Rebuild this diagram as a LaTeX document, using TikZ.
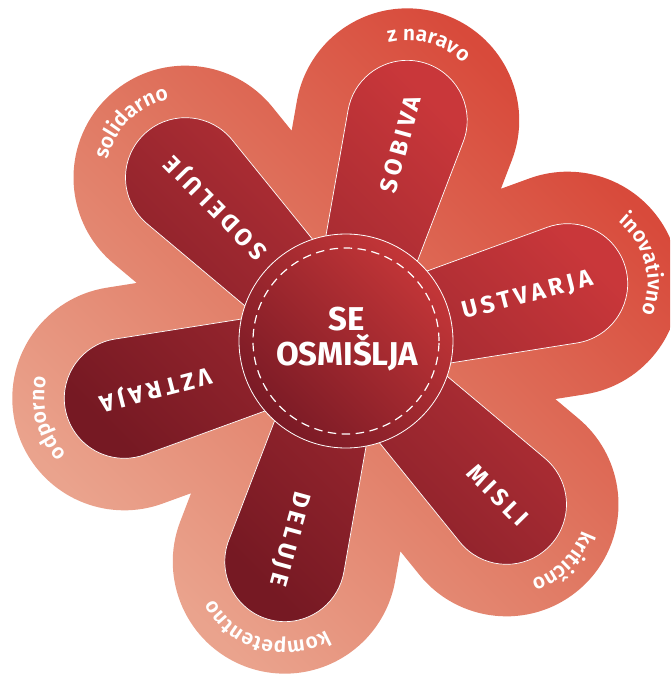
\documentclass[tikz,border=0pt]{standalone}
\usepackage{fontspec}
\usetikzlibrary{calc,decorations.text}
\setmainfont{Fira Sans}
\newcommand\headfont{\bfseries}
\IfFontExistsTF{Fira Sans SemiBold}
  {\newfontfamily\bandfont{Fira Sans SemiBold}}
  {\newcommand\bandfont{\bfseries}}
\newcommand\bandtype{\bandfont\fontsize{21}{21}\selectfont}

\definecolor{bandLow}{HTML}{EAA38D}
\definecolor{bandMid}{HTML}{E07862}
\definecolor{bandHigh}{HTML}{D84A3B}
\definecolor{petLow}{HTML}{761923}
\definecolor{petMid}{HTML}{9E2830}
\definecolor{petHigh}{HTML}{C9373A}
\definecolor{discLow}{HTML}{7A1A25}
\definecolor{discHigh}{HTML}{C43638}

% colour ramps laid along x, turned to 45 degrees where they are used
\pgfdeclarehorizontalshading{bandwash}{800bp}{color(0bp)=(bandLow); color(100bp)=(bandLow); color(400bp)=(bandMid); color(700bp)=(bandHigh); color(800bp)=(bandHigh)}
\pgfdeclarehorizontalshading{petalwash}{800bp}{color(0bp)=(petLow); color(170bp)=(petLow); color(400bp)=(petMid); color(630bp)=(petHigh); color(800bp)=(petHigh)}
\pgfdeclarehorizontalshading{discwash}{800bp}{color(0bp)=(discLow); color(295bp)=(discLow); color(505bp)=(discHigh); color(800bp)=(discHigh)}

% outer lobe round the petal whose axis points at angle #1
\newcommand\lobeshape[1]{({#1-90}:90.47) -- ({#1-27.06}:245.1) arc[start angle={#1-95.5}, end angle={#1+95.5}, radius=112] -- ({#1+90}:90.47) -- cycle}
% tapered petal with a round tip
\newcommand\petalshape[1]{({#1-90}:38.22) -- ({#1-14.98}:231.1) arc[start angle={#1-95.5}, end angle={#1+95.5}, radius=60] -- ({#1+90}:38.22) -- cycle}

\begin{document}
\begin{tikzpicture}[x=1pt,y=1pt,
  wash/.style={inner sep=0pt, outer sep=0pt, rotate=45},
  petallabel/.style={text=white, inner sep=0pt, text height=16.5pt, text depth=0pt,
     font={\headfont\fontsize{24}{24}\selectfont\addfontfeature{LetterSpace=17}}},
  corelabel/.style={text=white, inner sep=0pt, font={\headfont\fontsize{33}{35}\selectfont}},
  bandlabel/.style={decorate, decoration={text along path, text align=center, text color=white, text={#1}}},
]
\useasboundingbox (-346,-334) rectangle (324,341);
\clip (-346,-334) rectangle (324,341);

% outer salmon flower
\begin{scope}
  \clip \lobeshape{14.5} \lobeshape{74.5} \lobeshape{134.5} \lobeshape{194.5} \lobeshape{254.5} \lobeshape{314.5};
  \node[wash] (bandfill) at (0,0) {\pgfuseshading{bandwash}};
\end{scope}

% six petals
\begin{scope}
  \clip \petalshape{14.5} \petalshape{74.5} \petalshape{134.5} \petalshape{194.5} \petalshape{254.5} \petalshape{314.5};
  \node[wash] (petalfill) at (0,0) {\pgfuseshading{petalwash}};
\end{scope}
\draw[white, line width=0.7pt] \petalshape{14.5} \petalshape{74.5} \petalshape{134.5} \petalshape{194.5} \petalshape{254.5} \petalshape{314.5};

% centre disc
\begin{scope}
  \clip (0,0) circle[radius=107];
  \node[wash] (discfill) at (0,0) {\pgfuseshading{discwash}};
\end{scope}
\draw[white, line width=0.8pt] (0,0) circle[radius=107];
\draw[white, line width=1.2pt, dash pattern=on 8.5pt off 5.5pt] (0,0) circle[radius=93];

\node[corelabel, anchor=base] (se) at (1,11) {SE};
\node[corelabel, anchor=base] (osmislja) at (1,-24) {OSMIŠLJA};

\node[petallabel, rotate=14.5, anchor=east] (ustvarja) at (14.5:254) {USTVARJA};
\node[petallabel, rotate=74.5, anchor=east] (sobiva) at (74.5:254) {SOBIVA};
\node[petallabel, rotate=134.5, anchor=east] (sodeluje) at (134.5:254) {SODELUJE};
\node[petallabel, rotate=194.5, anchor=east] (vztraja) at (194.5:254) {VZTRAJA};
\node[petallabel, rotate=254.5, anchor=east] (deluje) at (254.5:254) {DELUJE};
\node[petallabel, rotate=314.5, anchor=east] (misli) at (314.5:254) {MISLI};

% words running round the lobe tips
\path[bandlabel={|\bandtype|inovativno}] ($(14.5:229)+(84.5:80)$) arc[start angle=84.5, end angle=-55.5, radius=80];
\path[bandlabel={|\bandtype|z naravo}] ($(74.5:229)+(144.5:80)$) arc[start angle=144.5, end angle=4.5, radius=80];
\path[bandlabel={|\bandtype|solidarno}] ($(134.5:229)+(204.5:80)$) arc[start angle=204.5, end angle=64.5, radius=80];
\path[bandlabel={|\bandtype|odporno}] ($(194.5:229)+(264.5:80)$) arc[start angle=264.5, end angle=124.5, radius=80];
\path[bandlabel={|\bandtype|kompetentno}] ($(254.5:229)+(324.5:80)$) arc[start angle=324.5, end angle=184.5, radius=80];
\path[bandlabel={|\bandtype|kritično}] ($(314.5:229)+(24.5:80)$) arc[start angle=24.5, end angle=-115.5, radius=80];
\end{tikzpicture}
\end{document}
